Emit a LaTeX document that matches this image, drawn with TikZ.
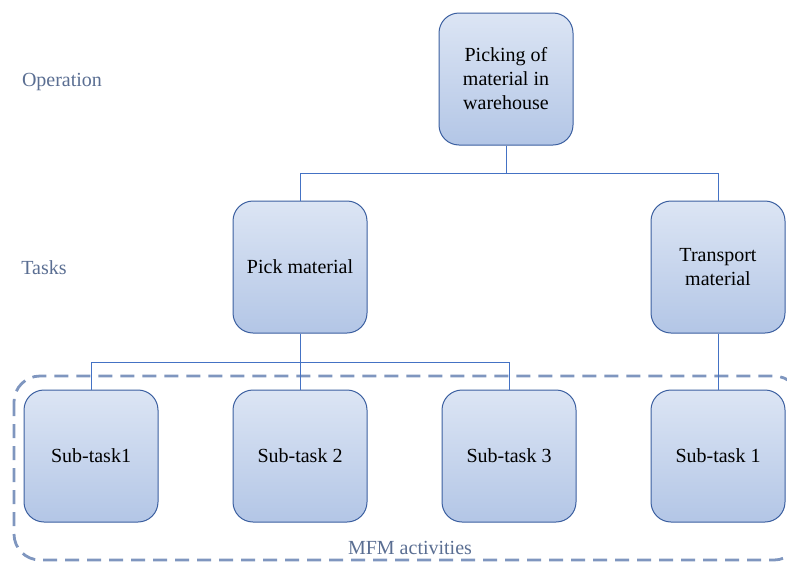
\documentclass[tikz,border=0pt]{standalone}
\usepackage{fontspec}
\setmainfont{Liberation Serif}
\definecolor{boxtop}{HTML}{DCE5F4}
\definecolor{boxbot}{HTML}{B3C6E6}
\definecolor{boxline}{HTML}{3B5FA0}
\definecolor{conn}{HTML}{4472C4}
\definecolor{dashc}{HTML}{7F96BF}
\definecolor{lblc}{HTML}{5A6E92}
\begin{document}
\begin{tikzpicture}[x=1pt,y=-1pt,
  task/.style={draw=boxline, line width=1pt, rounded corners=20pt, top color=boxtop, bottom color=boxbot,
    minimum width=134pt, minimum height=132pt, inner sep=0pt, align=center, font=\fontsize{20}{24}\selectfont},
  lvl/.style={text=lblc, font=\fontsize{20}{24}\selectfont, inner sep=0pt},
  link/.style={draw=conn, line width=0.9pt}]
\useasboundingbox (0,0) rectangle (787,563);
\draw[dashc, line width=2.8pt, dash pattern=on 14pt off 8pt, rounded corners=26pt] (14,376) rectangle (800,560);
\node[task] (op) at (506,79) {Picking of\\material in\\warehouse};
\node[task] (pm) at (300,267) {Pick material};
\node[task] (tm) at (718,267) {Transport\\material};
\node[task] (s1) at (91,456) {Sub-task1};
\node[task] (s2) at (300,456) {Sub-task 2};
\node[task] (s3) at (509,456) {Sub-task 3};
\node[task] (s4) at (718,456) {Sub-task 1};
\node[lvl] (lop) at (62,82) {Operation};
\node[lvl] (lta) at (44,268) {Tasks};
\node[lvl] (lmfm) at (410,548) {MFM activities};
\coordinate (j1) at (506,173);
\coordinate (j2) at (300,362);
\draw[link] (op.south) -- (j1);
\draw[link] (j1) -| (pm.north);
\draw[link] (j1) -| (tm.north);
\draw[link] (pm.south) -- (s2.north);
\draw[link] (j2) -| (s1.north);
\draw[link] (j2) -| (s3.north);
\draw[link] (tm.south) -- (s4.north);
\end{tikzpicture}
\end{document}
